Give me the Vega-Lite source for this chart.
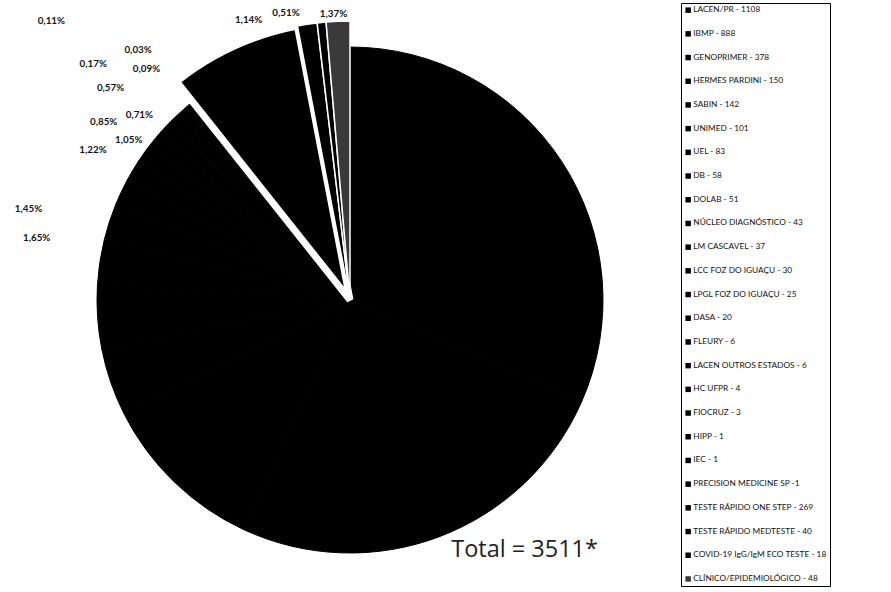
{
  "$schema": "https://vega.github.io/schema/vega-lite/v6.json",
  "autosize": {"type": "none"},
  "padding": {"left": 0, "top": 8, "right": 191, "bottom": 0},
  "width": 700,
  "height": 584,
  "background": "white",
  "title": {"text": "Total = 3511*", "orient": "bottom", "anchor": "end", "frame": "group", "font": "Open Sans", "fontSize": 23.5, "fontWeight": "normal", "color": "#222", "dx": -102, "dy": -58},
  "data": {"values": [
    {"ord": 1, "nome": "LACEN/PR - 1108", "n": 1108, "grupo": "Laboratório", "rot": ""},
    {"ord": 2, "nome": "IBMP - 888", "n": 888, "grupo": "Laboratório", "rot": ""},
    {"ord": 3, "nome": "GENOPRIMER - 378", "n": 378, "grupo": "Laboratório", "rot": ""},
    {"ord": 4, "nome": "HERMES PARDINI - 150", "n": 150, "grupo": "Laboratório", "rot": ""},
    {"ord": 5, "nome": "SABIN - 142", "n": 142, "grupo": "Laboratório", "rot": ""},
    {"ord": 6, "nome": "UNIMED - 101", "n": 101, "grupo": "Laboratório", "rot": ""},
    {"ord": 7, "nome": "UEL - 83", "n": 83, "grupo": "Laboratório", "rot": ""},
    {"ord": 8, "nome": "DB - 58", "n": 58, "grupo": "Laboratório", "rot": "1,65%"},
    {"ord": 9, "nome": "DOLAB - 51", "n": 51, "grupo": "Laboratório", "rot": "1,45%"},
    {"ord": 10, "nome": "NÚCLEO DIAGNÓSTICO - 43", "n": 43, "grupo": "Laboratório", "rot": "1,22%"},
    {"ord": 11, "nome": "LM CASCAVEL - 37", "n": 37, "grupo": "Laboratório", "rot": "1,05%"},
    {"ord": 12, "nome": "LCC FOZ DO IGUAÇU - 30", "n": 30, "grupo": "Laboratório", "rot": "0,85%"},
    {"ord": 13, "nome": "LPGL FOZ DO IGUAÇU - 25", "n": 25, "grupo": "Laboratório", "rot": "0,71%"},
    {"ord": 14, "nome": "DASA - 20", "n": 20, "grupo": "Laboratório", "rot": "0,57%"},
    {"ord": 15, "nome": "FLEURY - 6", "n": 6, "grupo": "Laboratório", "rot": "0,17%"},
    {"ord": 16, "nome": "LACEN OUTROS ESTADOS - 6", "n": 6, "grupo": "Laboratório", "rot": ""},
    {"ord": 17, "nome": "HC UFPR - 4", "n": 4, "grupo": "Laboratório", "rot": "0,11%"},
    {"ord": 18, "nome": "FIOCRUZ - 3", "n": 3, "grupo": "Laboratório", "rot": "0,09%"},
    {"ord": 19, "nome": "HIPP - 1", "n": 1, "grupo": "Laboratório", "rot": "0,03%"},
    {"ord": 20, "nome": "IEC - 1", "n": 1, "grupo": "Laboratório", "rot": ""},
    {"ord": 21, "nome": "PRECISION MEDICINE SP -1", "n": 1, "grupo": "Laboratório", "rot": ""},
    {"ord": 22, "nome": "TESTE RÁPIDO ONE STEP - 269", "n": 269, "grupo": "Teste rápido", "rot": ""},
    {"ord": 23, "nome": "TESTE RÁPIDO MEDTESTE - 40", "n": 40, "grupo": "Teste rápido", "rot": "1,14%"},
    {"ord": 24, "nome": "COVID-19 IgG/IgM ECO TESTE - 18", "n": 18, "grupo": "Teste rápido", "rot": "0,51%"},
    {"ord": 25, "nome": "CLÍNICO/EPIDEMIOLÓGICO - 48", "n": 48, "grupo": "Clínico", "rot": "1,37%"}
  ]},
  "encoding": {
    "color": {
      "field": "nome", "type": "nominal",
      "scale": {
        "domain": ["LACEN/PR - 1108", "IBMP - 888", "GENOPRIMER - 378", "HERMES PARDINI - 150", "SABIN - 142", "UNIMED - 101", "UEL - 83", "DB - 58", "DOLAB - 51", "NÚCLEO DIAGNÓSTICO - 43", "LM CASCAVEL - 37", "LCC FOZ DO IGUAÇU - 30", "LPGL FOZ DO IGUAÇU - 25", "DASA - 20", "FLEURY - 6", "LACEN OUTROS ESTADOS - 6", "HC UFPR - 4", "FIOCRUZ - 3", "HIPP - 1", "IEC - 1", "PRECISION MEDICINE SP -1", "TESTE RÁPIDO ONE STEP - 269", "TESTE RÁPIDO MEDTESTE - 40", "COVID-19 IgG/IgM ECO TESTE - 18", "CLÍNICO/EPIDEMIOLÓGICO - 48"],
        "range": ["#000", "#000", "#000", "#000", "#000", "#000", "#000", "#000", "#000", "#000", "#000", "#000", "#000", "#000", "#000", "#000", "#000", "#000", "#000", "#000", "#000", "#000", "#000", "#000", "#3a3a3a"]
      },
      "legend": {
        "title": null,
        "orient": "none",
        "legendX": 681,
        "legendY": -5,
        "labelFont": "Lato",
        "labelFontSize": 8.3,
        "labelColor": "#111",
        "labelLimit": 300,
        "symbolType": "square",
        "symbolSize": 30,
        "symbolStrokeWidth": 0,
        "rowPadding": 14.7,
        "padding": 3,
        "strokeColor": "#000",
        "symbolOffset": 0,
        "labelOffset": 1,
        "encode": {
          "symbols": {"enter": {"fill": {"value": "#000"}}, "update": {"fill": {"value": "#000"}, "stroke": {"value": "#000"}}},
          "legend": {"update": {"strokeWidth": {"value": 1.5}}}
        }
      }
    }
  },
  "layer": [
    {
      "transform": [
        {"stack": "n", "groupby": [], "sort": [{"field": "ord", "order": "ascending"}], "as": ["t0", "t1"]},
        {"filter": "datum.grupo == 'Laboratório'"}
      ],
      "mark": {"type": "arc", "outerRadius": 253, "stroke": "#000", "strokeWidth": 1},
      "encoding": {
        "theta": {"field": "t0", "type": "quantitative", "scale": {"domain": [0, 3511]}},
        "theta2": {"field": "t1"}
      }
    },
    {
      "transform": [
        {"stack": "n", "groupby": [], "sort": [{"field": "ord", "order": "ascending"}], "as": ["t0", "t1"]},
        {"filter": "datum.grupo != 'Laboratório'"}
      ],
      "mark": {"type": "arc", "outerRadius": 279, "stroke": "white"},
      "encoding": {
        "theta": {"field": "t0", "type": "quantitative", "scale": {"domain": [0, 3511]}},
        "theta2": {"field": "t1"},
        "strokeWidth": {"condition": {"test": "datum.ord == 22", "value": 7}, "value": 1.5}
      }
    },
    {
      "mark": {
        "type": "text",
        "font": "Lato",
        "fontWeight": "bold",
        "fontSize": 9.8,
        "color": "#111",
        "baseline": "middle",
        "align": "right",
        "thetaOffset": {"expr": "datum.ord == 8 ? -0.2356 : datum.ord == 9 ? -0.2496 : datum.ord == 10 ? -0.0681 : datum.ord == 11 ? -0.0367 : datum.ord == 12 ? -0.0995 : datum.ord == 13 ? -0.0489 : datum.ord == 14 ? -0.0873 : datum.ord == 15 ? -0.0942 : datum.ord == 17 ? -0.11 : datum.ord == 18 ? -0.0087 : datum.ord == 19 ? 0.0052 : datum.ord == 23 ? -0.1501 : datum.ord == 24 ? -0.0716 : datum.ord == 25 ? 0.0332 : 0"},
        "radius": {"expr": "datum.ord == 8 ? 306 : datum.ord == 9 ? 321 : datum.ord == 10 ? 286 : datum.ord == 11 ? 262 : datum.ord == 12 ? 293 : datum.ord == 13 ? 270 : datum.ord == 14 ? 310 : datum.ord == 15 ? 339 : datum.ord == 17 ? 399 : datum.ord == 18 ? 299 : datum.ord == 19 ? 319 : datum.ord == 23 ? 293 : datum.ord == 24 ? 291 : 286"}
      },
      "encoding": {
        "theta": {"field": "n", "type": "quantitative", "stack": true, "scale": {"domain": [0, 3511]}},
        "order": {"field": "ord", "type": "quantitative"},
        "text": {"field": "rot"},
        "color": {"value": "#111"}
      }
    }
  ]
}
